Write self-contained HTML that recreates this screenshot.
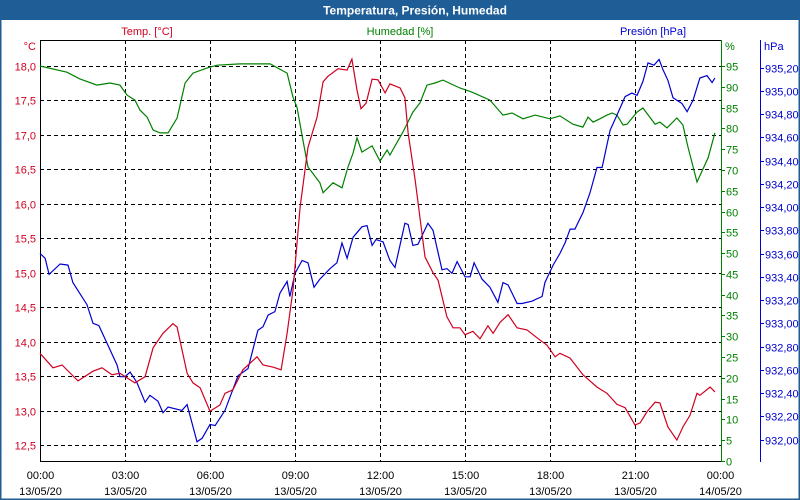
<!DOCTYPE html>
<html><head><meta charset="utf-8"><style>
html,body{margin:0;padding:0;background:#fff;}
#wrap{position:relative;width:800px;height:500px;overflow:hidden;font-family:"Liberation Sans",sans-serif;}
svg text{font-family:"Liberation Sans",sans-serif;}
</style></head><body>
<div id="wrap">
<svg id="chart" width="800" height="500" xmlns="http://www.w3.org/2000/svg">
<rect x="0.5" y="0.5" width="799" height="499" fill="#fff" stroke="#1f5d96" stroke-width="2"/>
<rect x="0" y="0" width="800" height="20" fill="#1f5d96"/>
<text x="415" y="14.5" fill="#fff" font-size="12" font-weight="bold" text-anchor="middle">Temperatura, Presión, Humedad</text>
<text x="147" y="35" fill="#d00020" font-size="11" text-anchor="middle">Temp. [°C]</text>
<text x="400" y="35" fill="#008000" font-size="11" text-anchor="middle">Humedad [%]</text>
<text x="653" y="35" fill="#0000d0" font-size="11" text-anchor="middle">Presión [hPa]</text>
<text x="36" y="50" fill="#d00020" font-size="11" text-anchor="end">°C</text>
<text x="725" y="50" fill="#008000" font-size="11">%</text>
<text x="764" y="50" fill="#0000d0" font-size="11">hPa</text>
<g id="grid"></g>
<g id="axes"></g>
<g id="series"></g>
</svg>
</div>
<script>
const tempHours=[0,0.46,0.78,1.34,1.87,2.19,2.54,2.82,3.35,3.71,3.99,4.34,4.69,4.84,5.19,5.40,5.65,6.00,6.35,6.53,6.81,7.16,7.66,7.87,8.22,8.51,8.72,8.93,9.18,9.46,9.78,9.99,10.16,10.52,10.84,11.01,11.19,11.33,11.51,11.72,11.93,12.18,12.35,12.71,12.88,12.99,13.24,13.48,13.59,13.87,14.05,14.36,14.58,14.82,15.00,15.28,15.53,15.81,15.99,16.24,16.52,16.84,17.19,17.65,17.89,18.18,18.35,18.71,19.16,19.66,20.01,20.36,20.65,21.00,21.18,21.42,21.71,21.88,22.16,22.48,22.69,22.94,23.19,23.29,23.65,23.82];
const tempValues=[13.83,13.62,13.66,13.43,13.57,13.62,13.52,13.54,13.40,13.49,13.91,14.12,14.26,14.21,13.54,13.40,13.33,12.99,13.08,13.25,13.30,13.59,13.78,13.66,13.63,13.59,14.12,14.75,15.95,16.82,17.26,17.77,17.85,17.96,17.94,18.10,17.65,17.38,17.46,17.81,17.80,17.61,17.74,17.68,17.54,17.03,16.35,15.58,15.23,15.00,14.89,14.36,14.20,14.20,14.10,14.15,14.04,14.23,14.12,14.28,14.39,14.20,14.17,14.02,13.95,13.78,13.83,13.76,13.52,13.34,13.25,13.09,13.04,12.79,12.82,12.98,13.12,13.11,12.76,12.57,12.76,12.93,13.25,13.22,13.34,13.27];
const humHours=[0,0.95,1.41,2.01,2.47,2.82,3.07,3.35,3.53,3.78,3.99,4.24,4.52,4.84,5.12,5.40,5.89,6.25,7.06,8.12,8.72,8.93,9.07,9.28,9.46,9.88,9.99,10.34,10.66,10.87,11.05,11.19,11.36,11.72,12.00,12.25,12.35,12.81,13.16,13.41,13.66,13.94,14.22,14.82,15.25,15.88,16.34,16.66,17.05,17.47,18.00,18.35,18.81,19.16,19.34,19.52,19.76,20.01,20.19,20.36,20.58,20.72,21.07,21.28,21.71,21.88,22.13,22.48,22.69,22.87,23.19,23.58,23.82];
const humValues=[95.0,93.5,91.9,90.4,90.9,90.4,88.0,86.8,84.4,82.7,79.6,78.9,78.9,82.5,90.9,93.3,94.5,95.2,95.5,95.5,93.3,87.5,85.1,77.2,70.7,66.9,64.5,66.9,65.7,70.7,74.1,77.7,74.3,75.8,72.1,74.8,73.6,79.1,83.9,86.1,90.4,90.9,91.6,89.7,88.7,86.8,83.2,83.7,82.3,83.2,82.3,83.0,81.0,80.3,82.7,81.5,82.3,83.2,83.7,83.2,80.8,81.0,83.9,84.9,81.0,81.5,80.1,82.5,80.8,75.5,67.1,72.9,78.9];
const presHours=[0,0.18,0.32,0.71,0.99,1.16,1.66,1.87,2.08,2.36,2.72,2.82,3.00,3.18,3.42,3.71,3.88,4.16,4.34,4.52,5.01,5.19,5.54,5.72,6.00,6.18,6.53,6.99,7.34,7.69,7.87,8.05,8.29,8.47,8.72,8.82,9.00,9.25,9.46,9.67,9.88,10.24,10.48,10.66,10.84,11.05,11.36,11.54,11.72,11.86,12.11,12.35,12.53,12.88,12.99,13.16,13.34,13.69,13.87,14.19,14.36,14.54,14.72,15.00,15.18,15.32,15.60,15.88,16.16,16.34,16.52,16.84,17.01,17.36,17.72,17.82,18.11,18.35,18.53,18.71,18.88,19.16,19.41,19.66,19.84,20.12,20.40,20.65,20.89,21.07,21.28,21.46,21.67,21.85,21.99,22.16,22.34,22.66,22.84,23.05,23.29,23.54,23.72,23.82];
const presValues=[933.60,933.56,933.42,933.51,933.50,933.35,933.16,933.00,932.98,932.83,932.64,932.54,932.54,932.58,932.49,932.32,932.38,932.33,932.23,932.28,932.25,932.30,931.98,932.01,932.13,932.12,932.25,932.55,932.61,932.94,932.97,933.07,933.10,933.26,933.36,933.23,933.43,933.54,933.52,933.31,933.38,933.47,933.52,933.69,933.56,933.74,933.83,933.84,933.67,933.72,933.70,933.54,933.48,933.86,933.85,933.67,933.68,933.86,933.80,933.46,933.47,933.43,933.53,933.40,933.40,933.52,933.38,933.31,933.18,933.35,933.33,933.17,933.17,933.19,933.23,933.35,933.50,933.60,933.69,933.81,933.81,933.95,934.12,934.34,934.34,934.66,934.81,934.95,934.98,934.96,935.08,935.24,935.22,935.27,935.18,935.09,934.94,934.89,934.82,934.92,935.11,935.13,935.07,935.11];
const tempTicks=["12,5","13,0","13,5","14,0","14,5","15,0","15,5","16,0","16,5","17,0","17,5","18,0"];
const humTicks=["0","5","10","15","20","25","30","35","40","45","50","55","60","65","70","75","80","85","90","95"];
const presTicks=["932,00","932,20","932,40","932,60","932,80","933,00","933,20","933,40","933,60","933,80","934,00","934,20","934,40","934,60","934,80","935,00","935,20"];
const xTickTimes=["00:00","03:00","06:00","09:00","12:00","15:00","18:00","21:00","00:00"];
const xTickDates=["13/05/20","13/05/20","13/05/20","13/05/20","13/05/20","13/05/20","13/05/20","13/05/20","14/05/20"];

const L=40,R=721,T=40,B=461;
const xS=h=>L+h*(680/24);
const yT=v=>66+(18-v)*68.9;
const yH=v=>461-v*4.158;
const yP=v=>67.5+(935.2-v)*116.25;
const num=s=>parseFloat(s.replace(',','.'));
const NS="http://www.w3.org/2000/svg";
function mk(parent,tag,attrs){const e=document.createElementNS(NS,tag);for(const k in attrs)e.setAttribute(k,attrs[k]);parent.appendChild(e);return e;}
const grid=document.getElementById('grid'),axes=document.getElementById('axes'),ser=document.getElementById('series');

tempTicks.forEach(t=>{const y=Math.round(yT(num(t)))+0.5;
 const g=mk(grid,'line',{x1:L,x2:R,y1:y,y2:y,stroke:'#000','stroke-dasharray':'4,3'});
 
 
 const tx=mk(axes,'text',{x:36,y:y+4,fill:'#d00020','font-size':11,'text-anchor':'end'});tx.textContent=t;
 
 
});
xTickTimes.forEach((t,i)=>{const x=Math.round(xS(i*3))+0.5;
 if(i>0&&i<8){const g=mk(grid,'line',{x1:x,x2:x,y1:T,y2:B,stroke:'#000','stroke-dasharray':'4,3'});
 
 }
 const a=mk(axes,'text',{x:x,y:479,fill:'#000','font-size':11,'text-anchor':'middle'});a.textContent=t;
 
 
 const b=mk(axes,'text',{x:x,y:495,fill:'#000','font-size':11,'text-anchor':'middle'});b.textContent=xTickDates[i];
 
 
});
humTicks.forEach(t=>{const y=Math.round(yH(num(t)))+0.5;
 const l=mk(axes,'line',{x1:R,x2:R+4,y1:y,y2:y,stroke:'#008000'});
 
 
 const tx=mk(axes,'text',{x:726,y:y+4,fill:'#008000','font-size':11});tx.textContent=t;
 
 
});
presTicks.forEach(t=>{const y=Math.round(yP(num(t)))+0.5;
 const l=mk(axes,'line',{x1:760,x2:764,y1:y,y2:y,stroke:'#0000d0'});
 
 
 const tx=mk(axes,'text',{x:765,y:y+4,fill:'#0000d0','font-size':11});tx.textContent=t;
 
 
});
let a1=mk(axes,'path',{d:`M${L+0.5},${B} V${T+0.5} H${R}`,fill:'none',stroke:'#000'});


let a2=mk(axes,'line',{x1:L,x2:R,y1:B+0.5,y2:B+0.5,stroke:'#000'});


let a3=mk(axes,'line',{x1:R+0.5,x2:R+0.5,y1:T,y2:B+1,stroke:'#008000'});


let a4=mk(axes,'line',{x1:760.5,x2:760.5,y1:T,y2:B+1,stroke:'#0000d0'});



function line(hours,vals,yf,color){return hours.map((h,i)=>(i?'L':'M')+xS(h).toFixed(1)+','+yf(vals[i]).toFixed(1)).join(' ');}
const pH=mk(ser,'path',{d:line(humHours,humValues,yH),fill:'none',stroke:'#008000','stroke-width':1.2});


const pP=mk(ser,'path',{d:line(presHours,presValues,yP),fill:'none',stroke:'#0000d0','stroke-width':1.2});


const pT=mk(ser,'path',{d:line(tempHours,tempValues,yT),fill:'none',stroke:'#d00020','stroke-width':1.2});


</script>
</body></html>
